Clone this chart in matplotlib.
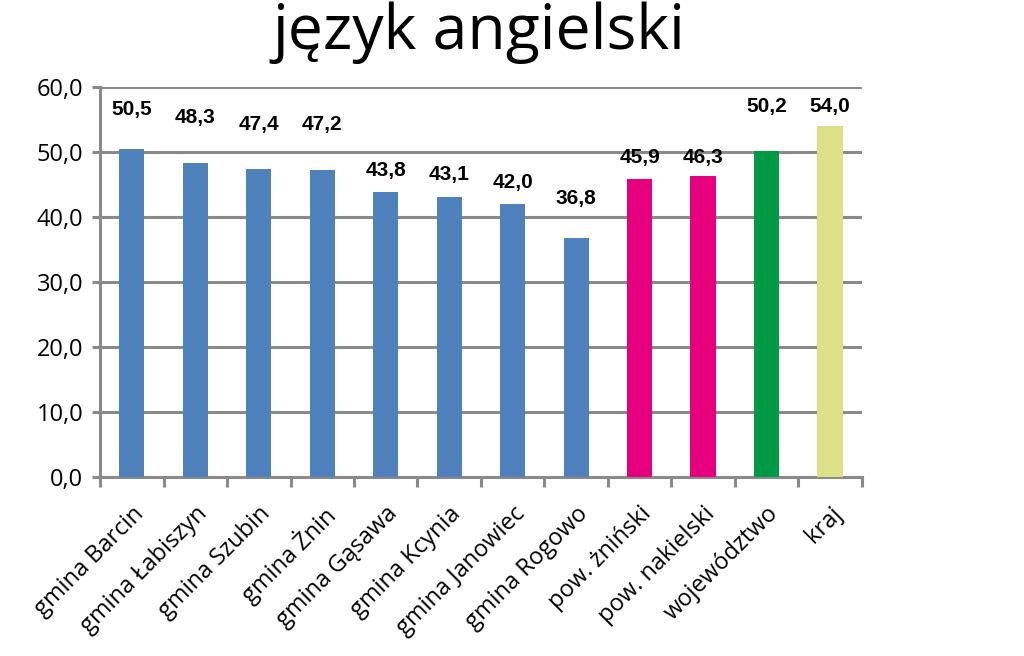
import numpy as np
import matplotlib.pyplot as plt

# Wyniki - język angielski
categories = ["gmina Barcin", "gmina Łabiszyn", "gmina Szubin", "gmina Żnin",
              "gmina Gąsawa", "gmina Kcynia", "gmina Janowiec", "gmina Rogowo",
              "pow. żniński", "pow. nakielski", "województwo", "kraj"]
values = [50.5, 48.3, 47.4, 47.2, 43.8, 43.1, 42.0, 36.8, 45.9, 46.3, 50.2, 54.0]
y_ticks = [0, 10, 20, 30, 40, 50, 60]

blue = "#4f81bd"
pink = "#e6007e"
green = "#009a44"
lime = "#dce186"
colors = [blue] * 8 + [pink] * 2 + [green, lime]

# label heights above bar tops (data units), as placed in the original
label_offsets = [6.0, 7.0, 6.8, 7.0, 3.4, 3.4, 3.4, 6.0, 3.3, 2.9, 6.9, 3.1]

grid_grey = "#8a8a8a"

fig = plt.figure(figsize=(10.24, 6.56), dpi=100)
ax = fig.add_axes([0.0977, 0.273, 0.744, 0.594])

x = np.arange(len(categories))
ax.bar(x, values, width=0.4, color=colors, zorder=3)

for xi, v, off in zip(x, values, label_offsets):
    ax.text(xi, v + off, f"{v:.1f}".replace(".", ","), ha="center", va="center",
            fontsize=15, fontweight="bold", family="Liberation Sans", zorder=4)

ax.set_ylim(0, 60)
ax.set_xlim(-0.5, len(categories) - 0.5)
ax.set_yticks(y_ticks)
ax.set_yticklabels([f"{t:.1f}".replace(".", ",") for t in y_ticks],
                   fontsize=17, family="Open Sans")
ax.yaxis.grid(True, color=grid_grey, linewidth=2.2, zorder=0)

ax.set_xticks(x)
ax.set_xticklabels(categories, rotation=45, ha="right", rotation_mode="anchor",
                   fontsize=17, family="Open Sans")
ax.tick_params(axis="x", length=0, pad=18)
ax.set_xticks(np.arange(-0.5, len(categories)), minor=True)
ax.tick_params(axis="x", which="minor", length=7, width=2.2, color=grid_grey)
ax.tick_params(axis="y", length=6, width=2.2, color=grid_grey, pad=6)

for side in ["top", "right"]:
    ax.spines[side].set_visible(False)
for side in ["left", "bottom"]:
    ax.spines[side].set_color(grid_grey)
    ax.spines[side].set_linewidth(2.2)

fig.text(0.468, 0.95, "język angielski", ha="center", va="center",
         fontsize=45, family="Open Sans")

plt.savefig("out.png", dpi=100)
